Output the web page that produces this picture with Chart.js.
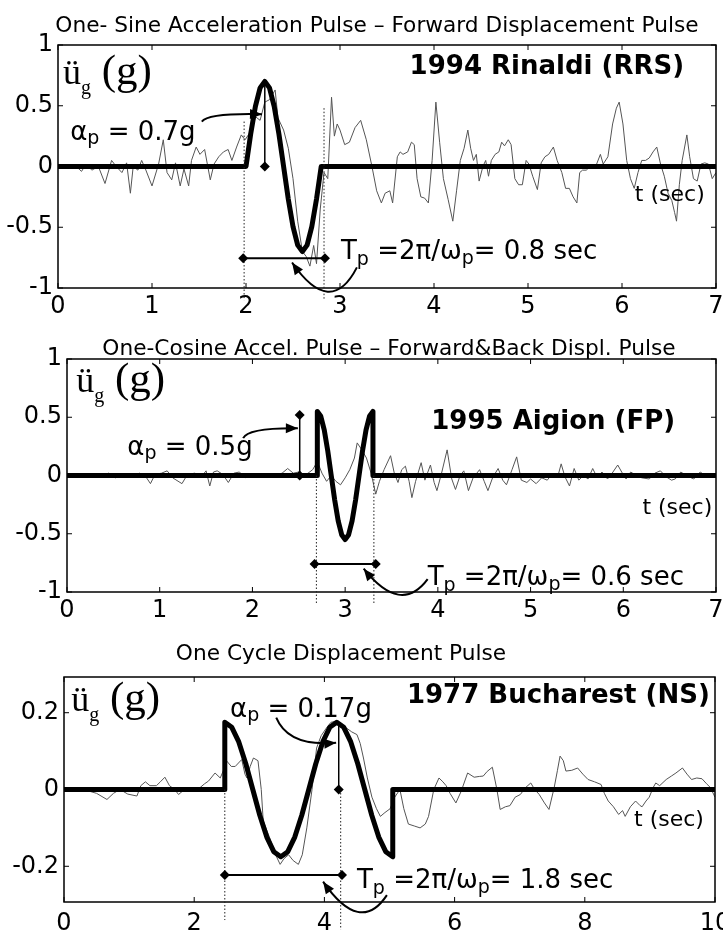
<!DOCTYPE html>
<html><head><meta charset="utf-8">
<script src="https://cdn.jsdelivr.net/npm/chart.js@4.4.1/dist/chart.umd.min.js"></script>
<style>
html,body{margin:0;padding:0;background:#fff;}
#wrap{position:relative;width:723px;height:936px;overflow:hidden;background:#fff;}
.box{position:absolute;left:0;width:723px;}
</style></head><body>
<div id="wrap">
<div class="box" style="top:0;height:322px"><canvas id="c1"></canvas></div>
<div class="box" style="top:322px;height:306px"><canvas id="c2"></canvas></div>
<div class="box" style="top:628px;height:308px"><canvas id="c3"></canvas></div>
</div>
<script>
// ---------------- DATA ----------------
// Panel 1: 1994 Rinaldi (RRS)
const xTicks1 = [0,1,2,3,4,5,6,7];
const xTickLabels1 = ['0','1','2','3','4','5','6','7'];
const yTicks1 = [-1,-0.5,0,0.5,1];
const yTickLabels1 = ['-1','-0.5','0','0.5','1'];
const pulseT1 = [0,2.0,2.05,2.1,2.15,2.2,2.25,2.3,2.35,2.4,2.45,2.5,2.55,2.6,2.65,2.7,2.75,2.8,7.0];
const pulseV1 = [0,0,0.268,0.495,0.647,0.7,0.647,0.495,0.268,0,-0.268,-0.495,-0.647,-0.7,-0.647,-0.495,-0.268,0,0];
const recT1 = [0,0.10,0.18,0.25,0.30,0.36,0.43,0.50,0.57,0.62,0.68,0.73,0.77,0.80,0.85,0.89,0.93,1.00,1.07,1.12,1.16,1.21,1.25,1.30,1.34,1.39,1.42,1.47,1.51,1.56,1.62,1.66,1.71,1.76,1.81,1.85,1.90,1.95,1.99,2.06,2.10,2.15,2.20,2.25,2.31,2.34,2.40,2.45,2.50,2.55,2.60,2.64,2.68,2.72,2.75,2.79,2.83,2.87,2.91,2.94,2.97,3.00,3.05,3.10,3.16,3.22,3.28,3.34,3.39,3.44,3.48,3.53,3.56,3.61,3.64,3.67,3.72,3.76,3.79,3.82,3.86,3.90,3.94,3.98,4.02,4.06,4.10,4.15,4.20,4.24,4.28,4.32,4.36,4.39,4.42,4.45,4.48,4.52,4.55,4.58,4.61,4.65,4.69,4.72,4.75,4.79,4.82,4.86,4.90,4.94,4.98,5.01,5.05,5.10,5.14,5.18,5.22,5.27,5.31,5.36,5.40,5.44,5.48,5.52,5.55,5.58,5.62,5.66,5.72,5.77,5.80,5.85,5.90,5.94,5.97,6.01,6.05,6.09,6.13,6.17,6.21,6.25,6.29,6.33,6.37,6.41,6.45,6.49,6.53,6.56,6.58,6.61,6.64,6.69,6.72,6.76,6.80,6.84,6.88,6.92,6.96,7.00];
const recV1 = [-0.01,-0.01,0.01,-0.04,0.02,-0.03,0.00,-0.14,0.05,0.00,-0.05,0.03,-0.22,0.00,-0.03,0.05,-0.02,-0.16,0.02,0.22,-0.05,-0.11,0.03,-0.16,-0.02,-0.16,0.05,0.16,0.10,0.14,-0.11,0.02,0.08,0.12,0.14,0.05,0.16,0.26,0.22,0.30,0.41,0.38,0.53,0.55,0.63,0.40,0.30,0.15,-0.10,-0.45,-0.70,-0.74,-0.82,-0.65,-0.80,-0.35,-0.05,-0.10,0.57,0.25,0.35,0.30,0.18,0.20,0.32,0.38,0.22,0.00,-0.20,-0.30,-0.22,-0.20,-0.30,0.08,0.12,0.10,0.12,0.20,0.18,-0.10,-0.25,-0.26,-0.30,0.05,0.53,0.20,-0.10,-0.27,-0.45,-0.20,0.05,0.15,0.30,0.15,0.05,0.10,-0.12,0.00,0.05,-0.08,0.05,0.10,0.12,0.20,0.17,0.22,0.18,-0.10,-0.15,-0.15,0.05,0.02,-0.08,-0.19,0.03,0.08,0.10,0.16,0.05,-0.05,-0.18,-0.18,-0.25,-0.30,-0.05,-0.03,-0.03,0.00,0.00,0.10,0.02,0.08,0.35,0.48,0.53,0.35,0.05,-0.10,-0.18,-0.05,0.05,0.05,0.07,0.12,0.16,0.02,-0.08,-0.22,-0.28,-0.38,-0.45,-0.15,0.05,0.26,0.08,-0.10,-0.12,0.02,0.03,0.02,-0.10,-0.05];

// Panel 2: 1995 Aigion (FP)
const xTicks2 = [0,1,2,3,4,5,6,7];
const xTickLabels2 = ['0','1','2','3','4','5','6','7'];
const yTicks2 = [-1,-0.5,0,0.5,1];
const yTickLabels2 = ['-1','-0.5','0','0.5','1'];
const pulseT2 = [0,2.7,2.7,2.7375,2.775,2.8125,2.85,2.8875,2.925,2.9625,3.0,3.0375,3.075,3.1125,3.15,3.1875,3.225,3.2625,3.3,3.3,7.0];
const pulseV2 = [0,0,0.55,0.508,0.389,0.211,0,-0.211,-0.389,-0.508,-0.55,-0.508,-0.389,-0.211,0,0.211,0.389,0.508,0.55,0,0];
const recT2 = [0,0.20,0.35,0.45,0.52,0.60,0.70,0.78,0.85,0.90,0.95,1.02,1.08,1.14,1.24,1.30,1.38,1.45,1.50,1.54,1.58,1.62,1.68,1.74,1.80,1.86,1.92,2.00,2.08,2.16,2.24,2.32,2.38,2.44,2.50,2.55,2.60,2.65,2.70,2.75,2.80,2.85,2.90,2.95,3.00,3.05,3.10,3.13,3.18,3.23,3.28,3.33,3.37,3.42,3.49,3.53,3.57,3.61,3.65,3.69,3.72,3.76,3.82,3.86,3.92,3.96,3.99,4.04,4.10,4.15,4.19,4.24,4.28,4.33,4.38,4.45,4.50,4.54,4.59,4.65,4.70,4.74,4.80,4.85,4.90,4.96,5.00,5.06,5.12,5.18,5.24,5.29,5.33,5.37,5.42,5.47,5.52,5.57,5.62,5.67,5.72,5.77,5.83,5.88,5.94,5.99,6.03,6.08,6.14,6.20,6.28,6.34,6.40,6.46,6.52,6.56,6.62,6.68,6.76,6.83,6.90,6.96,7.00];
const recV2 = [0,0,-0.01,0.02,-0.02,0.01,-0.01,0.02,-0.01,-0.07,0.01,0.02,0.04,-0.02,-0.07,0.01,0.02,-0.01,0.04,-0.09,0.03,0.04,0.01,-0.06,0.02,0.03,-0.02,0.01,0,-0.01,0,0.02,0.06,0.02,0.03,0,0.02,0.05,0.12,0.02,-0.05,0,-0.05,-0.08,-0.02,0.05,0.15,0.28,0.22,0.15,0.02,-0.16,-0.05,0.05,0.17,0.02,-0.06,0.05,0.08,-0.05,-0.19,-0.05,0.11,-0.04,0.09,-0.06,-0.13,0.02,0.22,-0.03,-0.12,0,0.04,-0.13,-0.02,0.05,-0.05,-0.13,-0.02,0.06,-0.04,-0.08,0.05,0.16,-0.04,-0.06,-0.03,-0.07,-0.02,-0.04,0.02,-0.02,0.10,-0.01,-0.09,0.06,-0.04,0,-0.03,0.06,-0.02,0.03,-0.03,0.02,0.09,0.02,-0.03,0.03,0,-0.02,-0.03,0.02,0.04,-0.01,-0.04,-0.03,0.03,0,-0.03,0.03,-0.01,0.01,0];

// Panel 3: 1977 Bucharest (NS)
const xTicks3 = [0,2,4,6,8,10];
const xTickLabels3 = ['0','2','4','6','8','10'];
const yTicks3 = [-0.2,0,0.2];
const yTickLabels3 = ['-0.2','0','0.2'];
const pulseT3 = [0,2.47,2.47,2.5775,2.685,2.7925,2.9,3.0075,3.115,3.2225,3.33,3.4375,3.545,3.6525,3.76,3.8675,3.975,4.0825,4.19,4.2975,4.405,4.5125,4.62,4.7275,4.835,4.9425,5.05,5.05,10.0];
const pulseV3 = [0,0,0.175,0.162,0.124,0.067,0,-0.067,-0.124,-0.162,-0.175,-0.162,-0.124,-0.067,0,0.067,0.124,0.162,0.175,0.162,0.124,0.067,0,-0.067,-0.124,-0.162,-0.175,0,0];
const recT3 = [0,0.30,0.50,0.66,0.76,0.86,0.98,1.12,1.18,1.25,1.32,1.42,1.48,1.55,1.62,1.70,1.76,1.85,1.91,2.00,2.09,2.16,2.22,2.32,2.40,2.45,2.50,2.57,2.63,2.73,2.78,2.81,2.86,2.91,2.98,3.03,3.06,3.16,3.25,3.32,3.38,3.45,3.52,3.60,3.66,3.73,3.81,3.88,3.95,4.03,4.10,4.19,4.27,4.34,4.42,4.50,4.55,4.60,4.66,4.73,4.80,4.86,4.93,5.01,5.08,5.16,5.22,5.29,5.38,5.47,5.55,5.60,5.68,5.76,5.82,5.87,5.93,6.02,6.10,6.20,6.30,6.38,6.44,6.50,6.58,6.65,6.70,6.78,6.85,6.93,7.01,7.09,7.17,7.23,7.30,7.38,7.45,7.53,7.58,7.62,7.67,7.71,7.80,7.89,7.97,8.05,8.15,8.25,8.30,8.36,8.44,8.52,8.58,8.62,8.70,8.78,8.85,8.88,8.94,8.99,9.05,9.09,9.15,9.25,9.33,9.40,9.50,9.57,9.64,9.72,9.80,9.87,9.93,10.0];
const recV3 = [0,0,-0.01,-0.026,-0.01,0,-0.012,-0.017,0.01,0.02,0.01,0.01,0.02,0.032,0.01,0,-0.013,0,0.005,0,0.005,0.015,0.022,0.043,0.03,0.05,0.074,0.06,0.06,0.078,0.04,0.03,0.06,0.082,0.075,0,-0.082,-0.126,-0.17,-0.195,-0.18,-0.17,-0.185,-0.195,-0.17,-0.1,0,0.108,0.14,0.16,0.175,0.178,0.17,0.16,0.15,0.143,0.12,0.082,0.03,-0.02,-0.05,-0.07,-0.06,-0.05,-0.02,0,-0.05,-0.09,-0.095,-0.1,-0.09,-0.07,0,0.03,0.02,0.01,-0.01,-0.035,-0.005,0.043,0.032,0.034,0.035,0.047,0.058,0,-0.052,-0.045,-0.042,-0.02,-0.013,0.005,0.017,0,-0.013,-0.035,-0.052,0.005,0.05,0.087,0.075,0.048,0.05,0.056,0.04,0.026,0.02,0.013,-0.01,-0.03,-0.045,-0.065,-0.055,-0.07,-0.045,-0.03,-0.042,-0.045,-0.03,-0.02,0.005,0.017,0.01,0.026,0.035,0.043,0.056,0.04,0.026,0.03,0.028,0.015,0.005,-0.02];

// ---------------- STYLE / LAYOUT ----------------
const SANS = '"DejaVu Sans", Verdana, sans-serif';
const SERIF = '"Liberation Serif", "Times New Roman", serif';
const TICKFONT = {family: SANS, size: 24};

const notes1 = {
  title: {text: 'One- Sine Acceleration Pulse \u2013 Forward Displacement Pulse', x: 377, y: 32},
  ylab: [0.053, 0.68],
  quake: {text: '1994 Rinaldi (RRS)', t: 6.66, v: 0.762},
  tsec: [6.88, -0.287],
  ap: {label: '0.7g', t: 0.13, v: 0.22},
  tp: {label: '0.8 sec', t: 3.01, v: -0.762},
  apLine: {t: 2.2, v0: 0, v1: 0.7, top: false},
  tpBar: {t0: 1.97, t1: 2.84, v: -0.755},
  dots: [[1.98, 0.37, -1.1], [2.83, 0.48, -1.1]],
  apArrow: [[1.53, 0.37], [1.6, 0.44], [2.17, 0.43]],
  tpArrow: [[3.18, -0.83], [2.9, -1.25], [2.49, -0.79]]
};
const notes2 = {
  title: {text: 'One-Cosine Accel. Pulse \u2013 Forward&Back Displ. Pulse', x: 389, y: 33},
  ylab: [0.1, 0.715],
  quake: {text: '1995 Aigion (FP)', t: 6.56, v: 0.40},
  tsec: [6.96, -0.33],
  ap: {label: '0.5g', t: 0.65, v: 0.18},
  tp: {label: '0.6 sec', t: 3.89, v: -0.94},
  apLine: {t: 2.51, v0: 0, v1: 0.52, top: true},
  tpBar: {t0: 2.67, t1: 3.33, v: -0.76},
  dots: [[2.69, 0, -1.1], [3.31, 0, -1.1]],
  apArrow: [[1.9, 0.32], [1.95, 0.41], [2.49, 0.405]],
  tpArrow: [[3.89, -0.89], [3.6, -1.2], [3.2, -0.8]]
};
const notes3 = {
  title: {text: 'One Cycle Displacement Pulse', x: 341, y: 32},
  ylab: [0.11, 0.205],
  quake: {text: '1977 Bucharest (NS)', t: 9.92, v: 0.226},
  tsec: [9.83, -0.094],
  ap: {label: '0.17g', t: 2.55, v: 0.19},
  tp: {label: '1.8 sec', t: 4.5, v: -0.257},
  apLine: {t: 4.22, v0: 0, v1: 0.175, top: false},
  tpBar: {t0: 2.47, t1: 4.27, v: -0.223},
  dots: [[2.47, 0, -0.34], [4.25, 0, -0.365]],
  apArrow: [[3.26, 0.187], [3.45, 0.11], [4.18, 0.122]],
  tpArrow: [[4.96, -0.275], [4.55, -0.38], [3.98, -0.24]]
};

function richText(ctx, parts, x, y, align) {
  const ws = parts.map(p => { ctx.font = (p[4] || 'normal') + ' ' + p[1] + 'px ' + (p[3] || SANS); return ctx.measureText(p[0]).width; });
  const total = ws.reduce((a, b) => a + b, 0);
  let cx = align === 'right' ? x - total : x;
  ctx.textAlign = 'left'; ctx.textBaseline = 'alphabetic'; ctx.fillStyle = '#000';
  parts.forEach((p, i) => {
    ctx.font = (p[4] || 'normal') + ' ' + p[1] + 'px ' + (p[3] || SANS);
    ctx.fillText(p[0], cx, y + (p[2] || 0));
    cx += ws[i];
  });
}
function diamond(ctx, x, y, r) {
  ctx.beginPath(); ctx.moveTo(x, y - r); ctx.lineTo(x + r, y); ctx.lineTo(x, y + r); ctx.lineTo(x - r, y); ctx.closePath(); ctx.fill();
}
function arrow(ctx, pts) {
  ctx.beginPath(); ctx.moveTo(pts[0][0], pts[0][1]);
  ctx.quadraticCurveTo(pts[1][0], pts[1][1], pts[2][0], pts[2][1]); ctx.stroke();
  const dx = pts[2][0] - pts[1][0], dy = pts[2][1] - pts[1][1];
  const d = Math.hypot(dx, dy), ux = dx / d, uy = dy / d;
  const L = 12, W = 5;
  const bx = pts[2][0] - ux * L, by = pts[2][1] - uy * L;
  ctx.beginPath(); ctx.moveTo(pts[2][0], pts[2][1]);
  ctx.lineTo(bx - uy * W, by + ux * W); ctx.lineTo(bx + uy * W, by - ux * W); ctx.closePath(); ctx.fill();
}

function makePlugin(notes, xt, yt) {
  return {
    id: 'annot',
    afterDatasetsDraw(chart) {
      const ctx = chart.ctx, xs = chart.scales.x, ys = chart.scales.y, a = chart.chartArea;
      const P = (t, v) => [xs.getPixelForValue(t), ys.getPixelForValue(v)];
      ctx.save();
      ctx.strokeStyle = '#000'; ctx.fillStyle = '#000';
      ctx.lineWidth = 1.5;
      ctx.strokeRect(a.left, a.top, a.right - a.left, a.bottom - a.top);
      ctx.lineWidth = 1;
      ctx.beginPath();
      xt.forEach(v => { const x = xs.getPixelForValue(v); ctx.moveTo(x, a.bottom); ctx.lineTo(x, a.bottom - 5); ctx.moveTo(x, a.top); ctx.lineTo(x, a.top + 5); });
      yt.forEach(v => { const y = ys.getPixelForValue(v); ctx.moveTo(a.left, y); ctx.lineTo(a.left + 5, y); ctx.moveTo(a.right, y); ctx.lineTo(a.right - 5, y); });
      ctx.stroke();
      ctx.setLineDash([1.5, 2]); ctx.lineWidth = 1; ctx.strokeStyle = '#222';
      notes.dots.forEach(d => { const p0 = P(d[0], d[1]), p1 = P(d[0], d[2]); ctx.beginPath(); ctx.moveTo(p0[0], p0[1]); ctx.lineTo(p1[0], p1[1]); ctx.stroke(); });
      ctx.setLineDash([]); ctx.strokeStyle = '#000';
      const b0 = P(notes.tpBar.t0, notes.tpBar.v), b1 = P(notes.tpBar.t1, notes.tpBar.v);
      ctx.lineWidth = 2; ctx.beginPath(); ctx.moveTo(b0[0], b0[1]); ctx.lineTo(b1[0], b1[1]); ctx.stroke();
      diamond(ctx, b0[0], b0[1], 5); diamond(ctx, b1[0], b1[1], 5);
      const l0 = P(notes.apLine.t, notes.apLine.v0), l1 = P(notes.apLine.t, notes.apLine.v1);
      ctx.lineWidth = 1.5; ctx.beginPath(); ctx.moveTo(l0[0], l0[1]); ctx.lineTo(l1[0], l1[1]); ctx.stroke();
      diamond(ctx, l0[0], l0[1], 5); if (notes.apLine.top) diamond(ctx, l1[0], l1[1], 5);
      ctx.lineWidth = 2;
      arrow(ctx, notes.apArrow.map(p => P(p[0], p[1])));
      arrow(ctx, notes.tpArrow.map(p => P(p[0], p[1])));
      let q;
      q = P(notes.ylab[0], notes.ylab[1]);
      richText(ctx, [['\u00fc', 36, 0, SERIF], ['g', 20, 10, SERIF], [' (g)', 43, 0, SERIF]], q[0], q[1], 'left');
      q = P(notes.quake.t, notes.quake.v);
      richText(ctx, [[notes.quake.text, 26, 0, SANS, 'bold']], q[0], q[1], 'right');
      q = P(notes.tsec[0], notes.tsec[1]);
      richText(ctx, [['t (sec)', 22, 0]], q[0], q[1], 'right');
      q = P(notes.ap.t, notes.ap.v);
      richText(ctx, [['\u03b1', 26, 0], ['p', 19, 4], [' = ' + notes.ap.label, 26, 0]], q[0], q[1], 'left');
      q = P(notes.tp.t, notes.tp.v);
      richText(ctx, [['T', 26, 0], ['p', 19, 6], [' =2\u03c0/\u03c9', 26, 0], ['p', 19, 5], ['= ' + notes.tp.label, 26, 0]], q[0], q[1], 'left');
      ctx.font = '21.7px ' + SANS; ctx.textAlign = 'center'; ctx.textBaseline = 'alphabetic'; ctx.fillStyle = '#000';
      ctx.fillText(notes.title.text, notes.title.x, notes.title.y);
      ctx.restore();
    }
  };
}

function makeChart(id, L, xMax, yMin, yMax, xt, xl, yt, yl, pT, pV, rT, rV, notes) {
  return new Chart(document.getElementById(id), {
    type: 'line',
    data: {
      datasets: [
        {data: pT.map((t, i) => ({x: t, y: pV[i]})), borderColor: '#000', borderWidth: 5, pointRadius: 0, tension: 0, borderJoinStyle: 'round', order: 0},
        {data: rT.map((t, i) => ({x: t, y: rV[i]})), borderColor: '#555', borderWidth: 1, pointRadius: 0, tension: 0, order: 1}
      ]
    },
    options: {
      responsive: true, maintainAspectRatio: false, animation: false,
      layout: {padding: {top: L.top, right: 723 - L.right, bottom: 0, left: 0}},
      plugins: {legend: {display: false}, tooltip: {enabled: false}, title: {display: false}},
      scales: {
        x: {
          type: 'linear', min: 0, max: xMax,
          grid: {display: false, drawTicks: false}, border: {display: false},
          afterBuildTicks: s => { s.ticks = xt.map(v => ({value: v})); },
          afterFit: s => { s.height = L.h - L.bottom; s.paddingLeft = 0; s.paddingRight = 0; },
          ticks: {font: TICKFONT, color: '#000', padding: L.xpad, maxRotation: 0, autoSkip: false,
                  callback: (v, i) => xl[i]}
        },
        y: {
          type: 'linear', min: yMin, max: yMax,
          grid: {display: false, drawTicks: false}, border: {display: false},
          afterBuildTicks: s => { s.ticks = yt.map(v => ({value: v})); },
          afterFit: s => { s.width = L.left; s.paddingTop = 0; s.paddingBottom = 0; },
          ticks: {font: TICKFONT, color: '#000', padding: 5, autoSkip: false,
                  callback: (v, i) => yl[i]}
        }
      }
    },
    plugins: [makePlugin(notes, xt, yt)]
  });
}

makeChart('c1', {top: 45, bottom: 288, left: 58, right: 716, h: 322, xpad: 4}, 7, -1, 1,
  xTicks1, xTickLabels1, yTicks1, yTickLabels1, pulseT1, pulseV1, recT1, recV1, notes1);
makeChart('c2', {top: 37, bottom: 270, left: 67, right: 716, h: 306, xpad: 4}, 7, -1, 1,
  xTicks2, xTickLabels2, yTicks2, yTickLabels2, pulseT2, pulseV2, recT2, recV2, notes2);
makeChart('c3', {top: 49, bottom: 274, left: 64, right: 715, h: 308, xpad: 7}, 10, -0.293, 0.293,
  xTicks3, xTickLabels3, yTicks3, yTickLabels3, pulseT3, pulseV3, recT3, recV3, notes3);
</script>
</body></html>
